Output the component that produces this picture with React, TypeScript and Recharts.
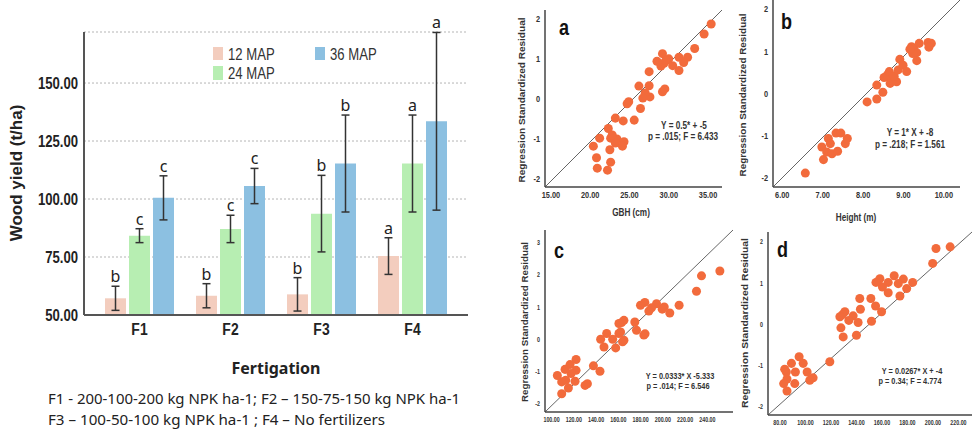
import React from 'react';
import {
  BarChart, Bar, XAxis, YAxis, CartesianGrid, ErrorBar, LabelList,
  ScatterChart, Scatter, ZAxis, ReferenceLine,
} from 'recharts';

// wood yield (t/ha) per fertigation level, mean and error
const fertigation = ['F1', 'F2', 'F3', 'F4'];
const map12 = [57.2, 58.3, 58.9, 75.4];
const map24 = [84.2, 87.1, 93.7, 115.3];
const map36 = [100.5, 105.6, 115.3, 133.5];
const err12 = [5.2, 5.2, 7.2, 7.9];
const err24 = [3, 5.9, 16.5, 20.9];
const err36 = [9.5, 7.6, 20.9, 38.3];
const letters12 = ['b', 'b', 'b', 'a'];
const letters24 = ['c', 'c', 'b', 'a'];
const letters36 = ['c', 'c', 'b', 'a'];
const yieldTicks = [50, 75, 100, 125, 150];

// regression residual panels: [x, standardized residual]
const gbhPoints = [
  [35.4, 1.87], [34.5, 1.62], [33.3, 1.26], [32.4, 1.04], [31.9, 0.91], [31.3, 1.04], [31.3, 0.71],
  [30.5, 0.83], [30.0, 1.0], [29.2, 1.13], [29.4, 0.89], [29.0, 0.82], [28.5, 0.94], [29.6, 0.95],
  [29.2, 0.18], [29.5, 0.25], [27.5, 0.68], [27.5, 0.33], [27.6, 0.05], [27.0, 0.15], [26.7, 0.02],
  [26.2, 0.32], [26.4, -0.24], [24.9, -0.07], [24.7, -0.12], [25.6, -0.53], [24.2, -0.55], [23.2, -0.48],
  [22.3, -0.74], [21.2, -0.98], [22.6, -0.98], [23.4, -1.0], [22.8, -0.9], [23.2, -1.1], [24.3, -1.07],
  [24.1, -1.18], [20.4, -1.18], [20.8, -1.47], [22.5, -1.27], [20.9, -1.73], [22.2, -1.78], [22.6, -1.58],
];
const heightPoints = [
  [6.57, -1.89], [6.98, -1.27], [7.02, -1.57], [7.14, -1.07], [7.19, -1.19], [7.1, -1.39], [7.23, -1.43],
  [7.33, -0.94], [7.45, -0.94], [7.37, -1.37], [7.56, -1.19], [7.61, -1.07], [8.1, -0.2], [8.34, -0.13],
  [8.49, 0.03], [8.34, 0.2], [8.52, 0.38], [8.6, 0.44], [8.65, 0.52], [8.7, 0.33], [8.67, 0.24],
  [8.83, 0.28], [8.77, 0.41], [8.87, 0.56], [8.91, 0.81], [8.99, 0.67], [9.08, 0.52], [9.2, 1.11],
  [9.26, 1.05], [9.33, 0.97], [9.23, 0.95], [9.33, 0.78], [9.39, 1.19], [9.61, 1.21], [9.69, 1.19],
  [9.63, 1.1], [9.16, 1.05],
];
const panelCPoints = [
  [251.2, 2.13], [234.7, 1.98], [230.2, 1.5], [214.6, 1.06], [206.2, 0.82], [201.2, 1.01], [199.4, 0.94],
  [194.3, 1.11], [189.8, 0.98], [187.4, 0.88], [183.8, 1.15], [179.9, 1.06], [182.9, 0.13], [184.0, 0.17],
  [176.3, 0.28], [174.8, 0.54], [165.0, 0.59], [162.9, 0.52], [160.5, 0.49], [162.0, 0.23], [160.5, 0.18],
  [165.0, -0.03], [163.8, -0.08], [157.6, -0.27], [154.9, 0.0], [149.5, 0.18], [147.1, -0.24], [144.1, 0.0],
  [143.5, -1.0], [137.6, -0.83], [132.2, -1.39], [130.1, -1.44], [122.0, -0.63], [122.0, -0.97], [121.1, -1.31],
  [116.6, -0.79], [117.5, -1.07], [112.1, -0.94], [112.7, -1.28], [109.1, -1.33], [115.1, -1.52], [105.2, -1.13],
  [109.1, -1.7],
];
const panelDPoints = [
  [213.5, 1.88], [202.4, 1.84], [199.8, 1.48], [184.1, 1.02], [179.4, 0.87], [176.8, 1.1], [172.8, 0.99],
  [174.1, 0.69], [169.6, 1.18], [164.9, 0.77], [164.9, 1.02], [160.4, 0.91], [158.4, 1.11], [157.1, 1.05],
  [155.3, 1.02], [159.7, 0.31], [155.0, 0.45], [151.3, 0.63], [151.8, 0.08], [142.6, 0.63], [143.1, 0.37],
  [141.3, 0.05], [140.0, -0.26], [137.4, 0.21], [134.0, 0.1], [130.9, 0.31], [129.1, 0.24], [127.0, 0.19],
  [127.8, -0.08], [129.6, -0.3], [119.1, -0.9], [106.0, -1.29], [103.4, -1.35], [101.3, -1.15], [98.2, -0.94],
  [95.0, -0.78], [92.1, -1.15], [91.6, -1.43], [89.0, -0.94], [85.0, -1.15], [85.5, -1.32], [82.9, -1.43],
  [85.5, -1.61], [83.7, -1.08],
];

const SANS = "'Liberation Sans', Arial, sans-serif";
const CAL = "'Noto Sans', 'Open Sans', sans-serif";

const colors = { m12: '#F3CDBE', m24: '#B7EEB2', m36: '#8CC0E1' };
const DOT = '#F26B3C';

const barData = fertigation.map((name, i) => ({
  name,
  m12: map12[i], m24: map24[i], m36: map36[i],
  e12: err12[i], e24: err24[i], e36: err36[i],
  l12: letters12[i], l24: letters24[i], l36: letters36[i],
}));

// Arial Narrow look-alike: squeeze Liberation Sans horizontally
const Narrow = ({ x, y, size, anchor = 'start', weight = 700, fill = '#333', dy, children }: any) => (
  <text
    transform={`translate(${x},${y}) scale(0.82,1)`} textAnchor={anchor} dy={dy}
    fontSize={size} fontWeight={weight} fontFamily={SANS} fill={fill}
  >
    {children}
  </text>
);

const NarrowTick = (props: any) => {
  const { x, y, payload, size, fmt, side } = props;
  const txt = fmt ? fmt(payload.value) : payload.value;
  return side === 'y'
    ? <Narrow x={x} y={y} size={size} anchor="end" dy="0.35em" fill={props.color}>{txt}</Narrow>
    : <Narrow x={x} y={y} size={size} anchor="middle" dy="0.71em" fill={props.color}>{txt}</Narrow>;
};

const fix2 = (v: number) => v.toFixed(2);

// letter sits above the upper error cap; px per unit taken from the bar itself
const letterLabel = (values: number[], errs: number[]) => (props: any) => {
  const vb = props.viewBox || {};
  const x = vb.x ?? props.x;
  const y = vb.y ?? props.y;
  const width = vb.width ?? props.width;
  const height = vb.height ?? props.height;
  const i = props.index;
  const top = Math.min(y, y + height);
  const h = Math.abs(height);
  const capY = top - (errs[i] * h) / (values[i] - 50);
  return (
    <text x={x + width / 2} y={capY - 4} textAnchor="middle" fontSize={16} fontFamily={CAL} fill="#222">
      {props.value}
    </text>
  );
};

function ResidualPanel(p: any) {
  const data = p.points.map(([x, y]: number[]) => ({ x, y }));
  return (
    <div style={{ position: 'absolute', left: p.left, top: p.top }}>
      <ScatterChart width={p.w} height={p.h} margin={p.margin}>
        <XAxis
          type="number" dataKey="x" domain={p.xDomain} ticks={p.xTicks} interval={0}
          height={p.xAxisHeight} tickLine={false} tickSize={3} tickMargin={2}
          axisLine={{ stroke: '#444', strokeWidth: 1.5 }}
          tick={<NarrowTick size={p.tickFont} fmt={fix2} color="#333" />}
        />
        <YAxis
          type="number" dataKey="y" domain={p.yDomain} ticks={p.yTicks} interval={0}
          width={p.yAxisWidth} tickLine={false} tickSize={3} tickMargin={2}
          axisLine={{ stroke: '#444', strokeWidth: 1.5 }}
          tick={<NarrowTick size={p.tickFont} side="y" color="#333" />}
        />
        <ZAxis range={[p.dotArea, p.dotArea]} />
        <ReferenceLine
          segment={[{ x: p.xDomain[0], y: p.yDomain[0] }, { x: p.xDomain[1], y: p.yDomain[1] }]}
          stroke="#666" strokeWidth={1} ifOverflow="visible"
        />
        <Scatter data={data} fill={DOT} isAnimationActive={false} />
      </ScatterChart>
    </div>
  );
}

export default function App() {
  return (
    <div style={{ position: 'absolute', left: 0, top: 0, width: 972, height: 432, background: '#fff', overflow: 'hidden' }}>
      <div style={{ position: 'absolute', left: 0, top: 0 }}>
        <BarChart width={480} height={345} data={barData} margin={{ top: 32, right: 12, left: 0, bottom: 0 }} barSize={21} barGap={3}>
          <CartesianGrid vertical={false} stroke="#b5b5b5" strokeDasharray="2 2" />
          <XAxis
            dataKey="name" padding={{ left: 10, right: 10 }} height={30} tickLine={false}
            axisLine={{ stroke: '#555', strokeWidth: 2 }}
            tick={<NarrowTick size={17} color="#222" />}
          />
          <YAxis
            width={84} domain={[50, 172]} ticks={yieldTicks} allowDataOverflow interval={0}
            tickLine={false} tickSize={4} tickMargin={2}
            axisLine={{ stroke: '#555', strokeWidth: 2 }}
            tick={<NarrowTick size={16} side="y" fmt={fix2} color="#222" />}
          />
          <Bar dataKey="m12" fill={colors.m12} isAnimationActive={false}>
            <ErrorBar dataKey="e12" width={4} stroke="#333" strokeWidth={1.5} direction="y" />
            <LabelList dataKey="l12" content={letterLabel(map12, err12)} />
          </Bar>
          <Bar dataKey="m24" fill={colors.m24} isAnimationActive={false}>
            <ErrorBar dataKey="e24" width={4} stroke="#333" strokeWidth={1.5} direction="y" />
            <LabelList dataKey="l24" content={letterLabel(map24, err24)} />
          </Bar>
          <Bar dataKey="m36" fill={colors.m36} isAnimationActive={false}>
            <ErrorBar dataKey="e36" width={4} stroke="#333" strokeWidth={1.5} direction="y" />
            <LabelList dataKey="l36" content={letterLabel(map36, err36)} />
          </Bar>
        </BarChart>
      </div>

      <ResidualPanel
        left={500} top={0} w={240} h={215} margin={{ top: 10, right: 18, left: 0, bottom: 0 }}
        yAxisWidth={45} xAxisHeight={28} points={gbhPoints}
        xDomain={[14.24, 36.78]} xTicks={[15, 20, 25, 30, 35]}
        yDomain={[-2.2, 2.22]} yTicks={[-2, -1, 0, 1, 2]} tickFont={9} dotArea={64}
      />
      <ResidualPanel
        left={730} top={0} w={242} h={215} margin={{ top: 0, right: 12, left: 0, bottom: 0 }}
        yAxisWidth={43} xAxisHeight={28} points={heightPoints}
        xDomain={[5.77, 10.4]} xTicks={[6, 7, 8, 9, 10]}
        yDomain={[-2.22, 2.22]} yTicks={[-2, -1, 0, 1, 2]} tickFont={9} dotArea={64}
      />
      <ResidualPanel
        left={500} top={215} w={240} h={217} margin={{ top: 15, right: 7, left: 0, bottom: 0 }}
        yAxisWidth={45} xAxisHeight={20} points={panelCPoints}
        xDomain={[94.1, 263]} xTicks={[100, 120, 140, 160, 180, 200, 220, 240]}
        yDomain={[-2.27, 3.41]} yTicks={[-2, -1, 0, 1, 2, 3]} tickFont={6.5} dotArea={50}
      />
      <ResidualPanel
        left={730} top={215} w={242} h={217} margin={{ top: 17, right: 0, left: 0, bottom: 0 }}
        yAxisWidth={38} xAxisHeight={17} points={panelDPoints}
        xDomain={[70.6, 230.65]} xTicks={[80, 100, 120, 140, 160, 180, 200, 220]}
        yDomain={[-2.19, 2.24]} yTicks={[-2, -1, 0, 1, 2]} tickFont={6.5} dotArea={50}
      />

      <svg width={972} height={432} style={{ position: 'absolute', left: 0, top: 0, pointerEvents: 'none' }}>
        {/* legend */}
        <rect x={213} y={47} width={10} height={13} fill={colors.m12} />
        <Narrow x={228} y={60} size={16} weight={400}>12 MAP</Narrow>
        <rect x={315} y={47} width={10} height={13} fill={colors.m36} />
        <Narrow x={330} y={60} size={16} weight={400}>36 MAP</Narrow>
        <rect x={213} y={66} width={10} height={14} fill={colors.m24} />
        <Narrow x={228} y={79} size={16} weight={400}>24 MAP</Narrow>

        {/* bar chart titles */}
        <text transform="translate(22,173) rotate(-90)" textAnchor="middle" fontSize={17} fontWeight={700} fontFamily={SANS} fill="#222">Wood yield (t/ha)</text>
        <text x={276} y={374} textAnchor="middle" fontSize={16} fontWeight={700} fontFamily={CAL} fill="#222">Fertigation</text>
        <text x={48} y={404} fontSize={15} fontFamily={CAL} fill="#222" textLength={412} lengthAdjust="spacingAndGlyphs">F1 - 200-100-200 kg NPK ha-1; F2 – 150-75-150 kg NPK ha-1</text>
        <text x={48} y={425} fontSize={15} fontFamily={CAL} fill="#222" textLength={337} lengthAdjust="spacingAndGlyphs">F3 – 100-50-100  kg NPK ha-1 ; F4 – No fertilizers</text>

        {/* residual panel annotations */}
        {[
          { cx: 525, cy: 100, len: 165 },
          { cx: 746, cy: 95, len: 163 },
          { cx: 528, cy: 322, len: 160 },
          { cx: 748, cy: 323, len: 170 },
        ].map((t, i) => (
          <text key={i} transform={`translate(${t.cx},${t.cy}) rotate(-90)`} textAnchor="middle" fontSize={9} fontWeight={700} fontFamily={SANS} fill="#333" textLength={t.len} lengthAdjust="spacingAndGlyphs">
            Regression Standardized Residual
          </text>
        ))}
        <Narrow x={631} y={216} size={10} anchor="middle">GBH (cm)</Narrow>
        <Narrow x={856} y={221} size={10} anchor="middle">Height (m)</Narrow>

        <Narrow x={559} y={35} size={22} fill="#111">a</Narrow>
        <Narrow x={781} y={29} size={22} fill="#111">b</Narrow>
        <Narrow x={554} y={258} size={22} fill="#111">c</Narrow>
        <Narrow x={777} y={257} size={22} fill="#111">d</Narrow>

        <Narrow x={684} y={129} size={10} anchor="middle">Y = 0.5* + -5</Narrow>
        <Narrow x={683} y={140} size={10} anchor="middle">p = .015; F = 6.433</Narrow>
        <Narrow x={910} y={136} size={10} anchor="middle">Y = 1* X + -8</Narrow>
        <Narrow x={910} y={148} size={10} anchor="middle">p = .218; F = 1.561</Narrow>
        <Narrow x={680} y={379} size={9} anchor="middle">Y = 0.0333* X -5.333</Narrow>
        <Narrow x={678} y={389} size={9} anchor="middle">p = .014; F = 6.546</Narrow>
        <Narrow x={912} y={374} size={9} anchor="middle">Y = 0.0267* X + -4</Narrow>
        <Narrow x={910} y={384} size={9} anchor="middle">p = 0.34; F = 4.774</Narrow>
      </svg>
    </div>
  );
}
